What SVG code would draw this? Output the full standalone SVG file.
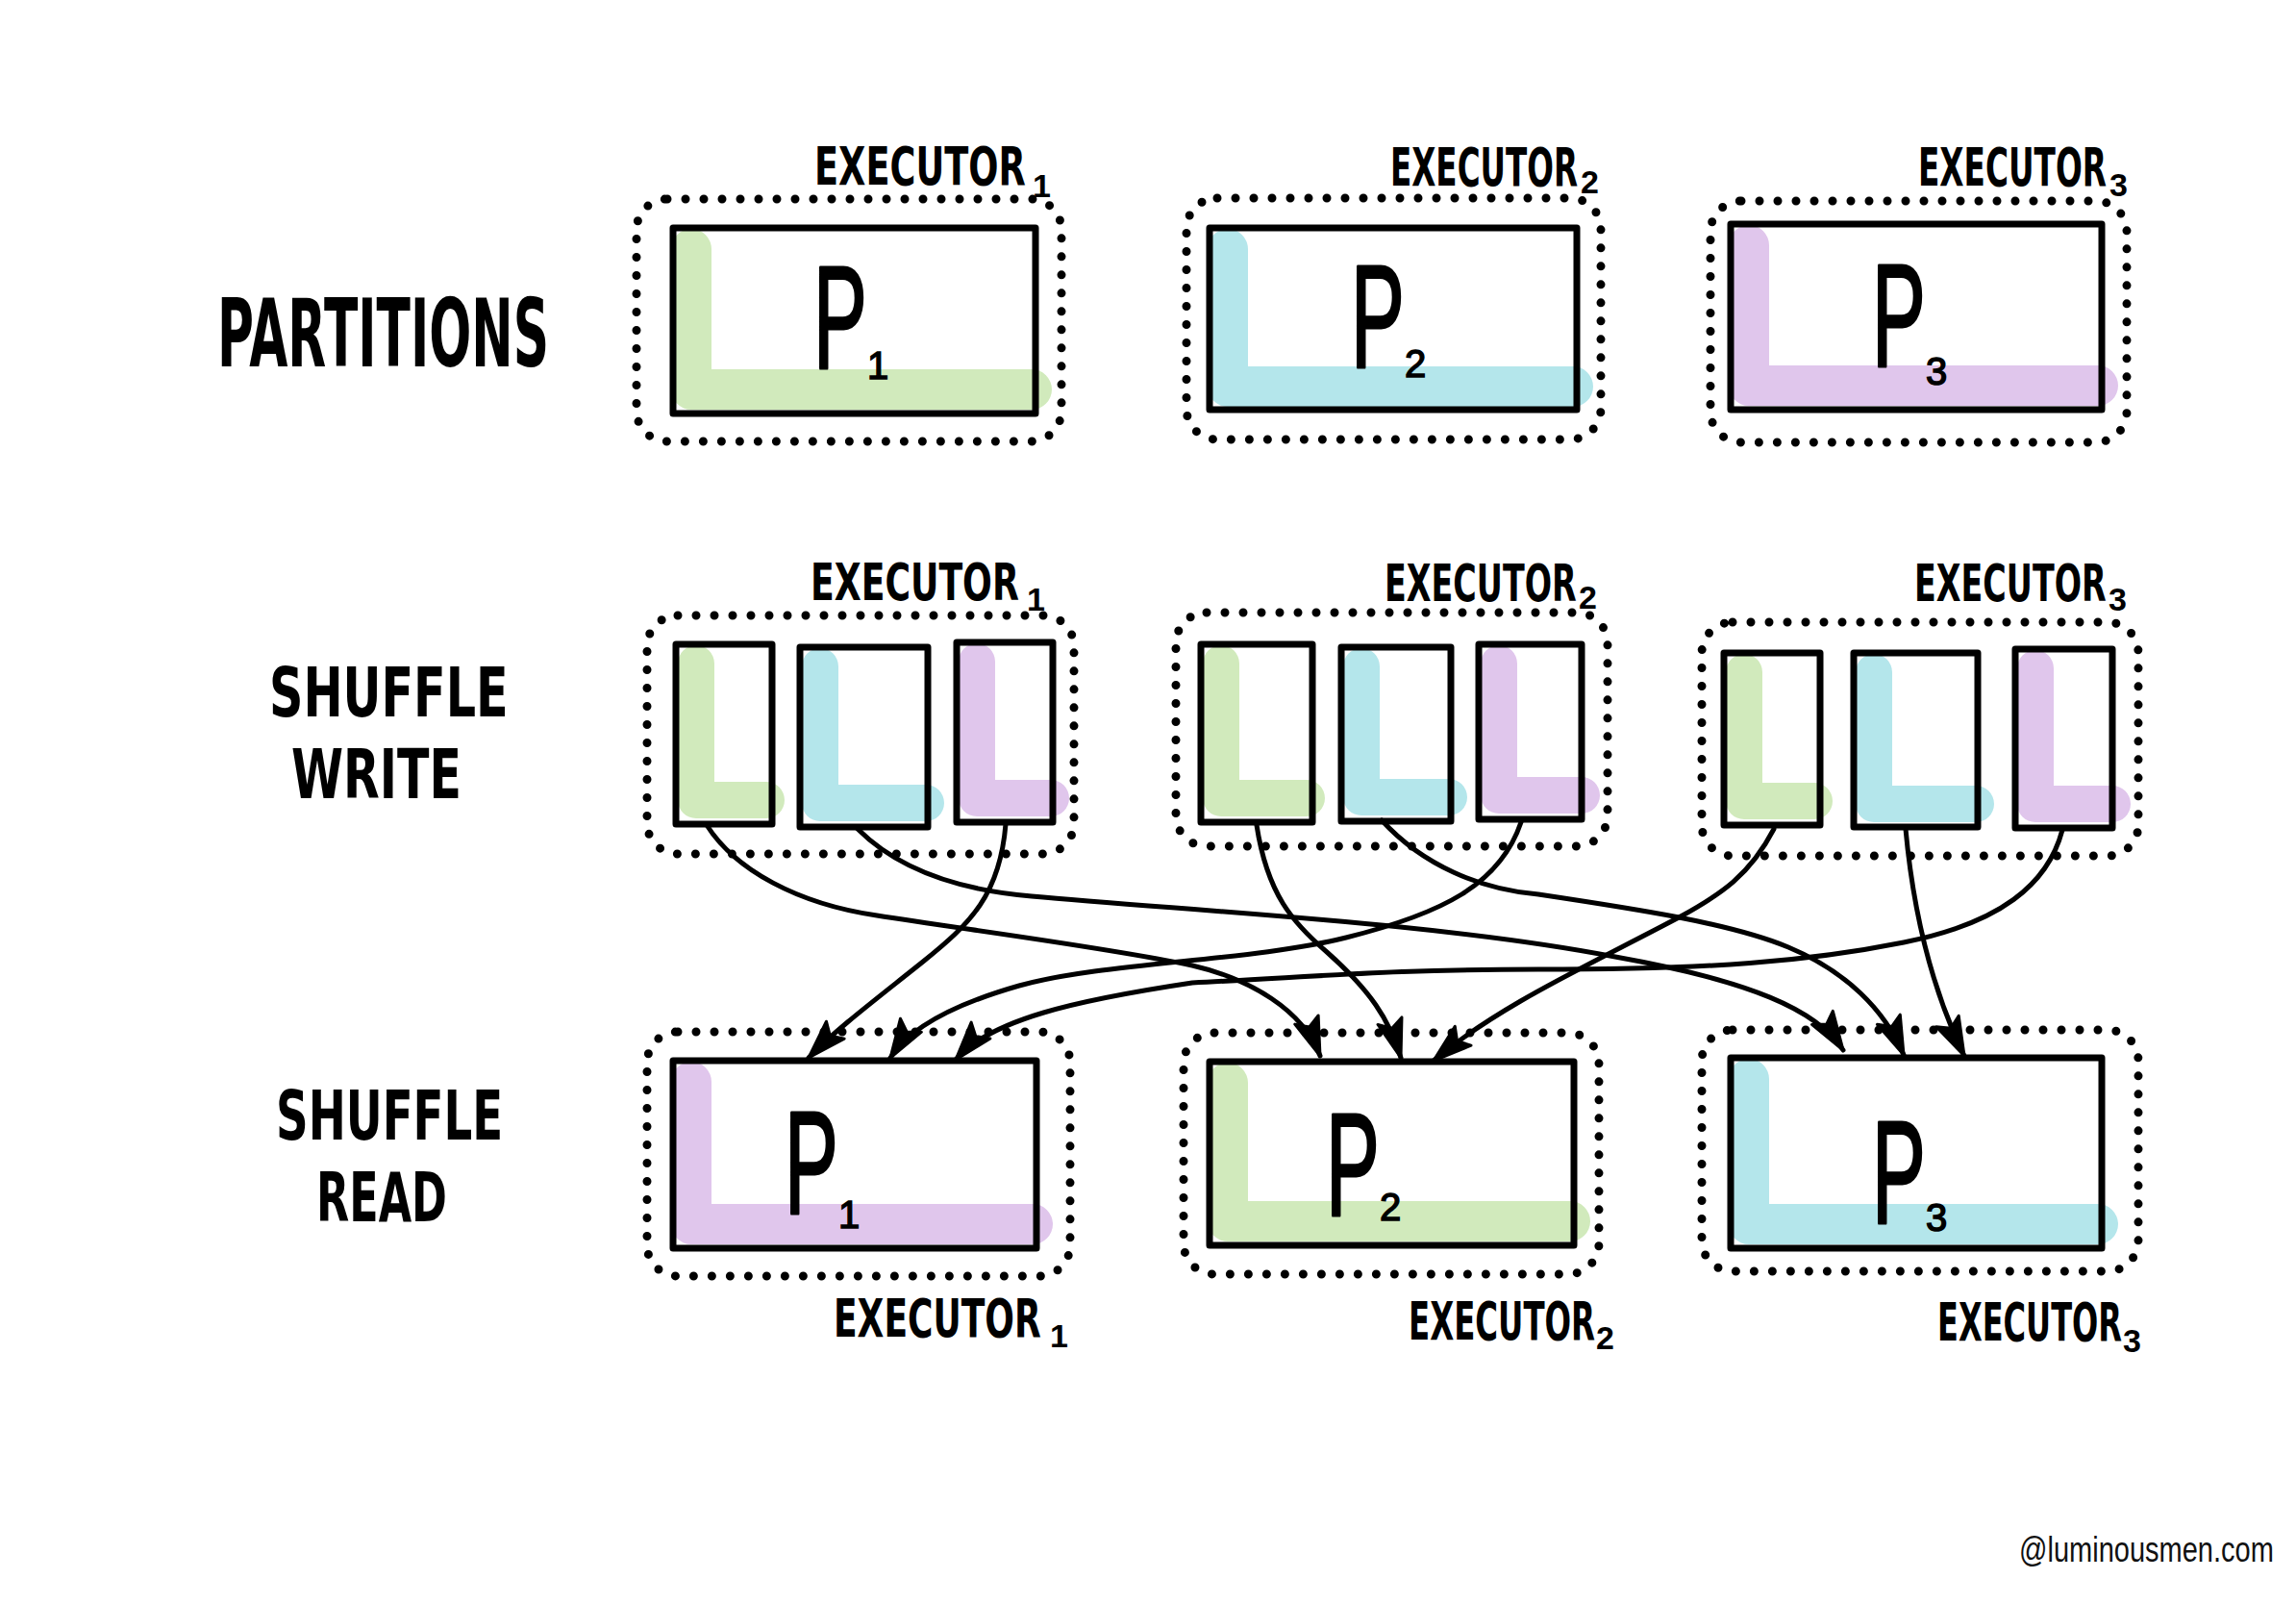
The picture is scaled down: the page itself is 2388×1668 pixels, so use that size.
<svg xmlns="http://www.w3.org/2000/svg" width="2388" height="1668" viewBox="0 0 2388 1668">
<style>
.dot{fill:none;stroke:#000;stroke-width:9;stroke-linecap:round;stroke-dasharray:0 19}
.box{fill:none;stroke:#000;stroke-width:7;stroke-linejoin:round}
.hl{fill:none;stroke-width:42;stroke-linecap:round;stroke-linejoin:round}
.hls{fill:none;stroke-width:38;stroke-linecap:round;stroke-linejoin:round}
.g{stroke:#d1eabc}.b{stroke:#b4e6eb}.p{stroke:#e0c6ec}
.lbl{font-family:"DejaVu Sans","Liberation Sans",sans-serif;font-weight:bold;fill:#000}
.ex{font-family:"DejaVu Sans","Liberation Sans",sans-serif;font-weight:bold;font-size:56px;fill:#000}
.ex2{font-size:54px}
.sub{font-family:"Liberation Sans","DejaVu Sans",sans-serif;font-weight:bold;font-size:34px;fill:#000}
.P{font-family:"Liberation Sans","DejaVu Sans",sans-serif;font-size:152px;fill:#000;stroke:#000;stroke-width:3;stroke-linejoin:round}
.ps{font-family:"Liberation Sans","DejaVu Sans",sans-serif;font-size:40px;fill:#000;stroke:#000;stroke-width:1.5}
.conn path{fill:none;stroke:#000;stroke-width:5;stroke-linecap:round;marker-end:url(#ah)}
</style>
<defs>
<marker id="ah" markerUnits="userSpaceOnUse" markerWidth="46" markerHeight="34" refX="42" refY="15" orient="auto">
<path d="M2,2 L42,15 L2,28 L10,15 Z" fill="#000" stroke="#000" stroke-width="3" stroke-linejoin="round"/>
</marker>
</defs>
<rect width="2388" height="1668" fill="#fff"/>

<g id="row-labels">
<text class="lbl" font-size="98" transform="translate(226,381) scale(0.529,1)">PARTITIONS</text>
<text class="lbl" font-size="72" transform="translate(280,745) scale(0.683,1)">SHUFFLE</text>
<text class="lbl" font-size="72" transform="translate(303,830) scale(0.681,1)">WRITE</text>
<text class="lbl" font-size="72" transform="translate(287,1185) scale(0.649,1)">SHUFFLE</text>
<text class="lbl" font-size="72" transform="translate(329,1270) scale(0.618,1)">READ</text>
</g>

<!-- Row 1: partitions -->
<g id="part-exec1">
<rect class="dot" x="662" y="207" width="442" height="252" rx="32"/>
<path class="hl g" d="M719,259 L719,405 L1073,405"/>
<rect class="box" x="700" y="237" width="377" height="193"/>
<text class="P" transform="translate(846,383) scale(0.55,1)">P</text>
<text class="ps" x="902" y="394">1</text>
<text class="ex" transform="translate(847,192) scale(0.656,1)">EXECUTOR</text>
<text class="sub" x="1074" y="205">1</text>
</g>
<g id="part-exec2">
<rect class="dot" x="1234" y="206" width="431" height="251" rx="32"/>
<path class="hl b" d="M1277,259 L1277,402 L1636,402"/>
<rect class="box" x="1258" y="237" width="382" height="189"/>
<text class="P" transform="translate(1405,382) scale(0.55,1)">P</text>
<text class="ps" x="1461" y="392">2</text>
<text class="ex" transform="translate(1446,193) scale(0.582,1)">EXECUTOR</text>
<text class="sub" x="1644" y="201">2</text>
</g>
<g id="part-exec3">
<rect class="dot" x="1779" y="209" width="433" height="251" rx="32"/>
<path class="hl p" d="M1819,255 L1819,401 L2182,401"/>
<rect class="box" x="1800" y="233" width="386" height="193"/>
<text class="P" transform="translate(1947,381) scale(0.55,1)">P</text>
<text class="ps" x="2003" y="400">3</text>
<text class="ex" transform="translate(1995,193) scale(0.585,1)">EXECUTOR</text>
<text class="sub" x="2194" y="204">3</text>
</g>

<!-- Row 2: shuffle write -->
<g id="write-exec1">
<rect class="dot" x="673" y="640" width="444" height="248" rx="32"/>
<path class="hls g" d="M724,690 L724,832 L797,832"/>
<rect class="box" x="703" y="670" width="100" height="187"/>
<path class="hls b" d="M853,693 L853,835 L963,835"/>
<rect class="box" x="832" y="673" width="133" height="187"/>
<path class="hls p" d="M1016,688 L1016,830 L1093,830"/>
<rect class="box" x="995" y="668" width="100" height="187"/>
<text class="ex ex2" transform="translate(843,624) scale(0.671,1)">EXECUTOR</text>
<text class="sub" x="1068" y="635">1</text>
</g>
<g id="write-exec2">
<rect class="dot" x="1223" y="637" width="449" height="243" rx="32"/>
<path class="hls g" d="M1270,690 L1270,830 L1359,830"/>
<rect class="box" x="1249" y="670" width="116" height="185"/>
<path class="hls b" d="M1416,693 L1416,829 L1507,829"/>
<rect class="box" x="1395" y="673" width="114" height="181"/>
<path class="hls p" d="M1559,690 L1559,827 L1645,827"/>
<rect class="box" x="1538" y="670" width="107" height="182"/>
<text class="ex ex2" transform="translate(1440,625) scale(0.618,1)">EXECUTOR</text>
<text class="sub" x="1642" y="633">2</text>
</g>
<g id="write-exec3">
<rect class="dot" x="1770" y="647" width="454" height="243" rx="32"/>
<path class="hls g" d="M1814,699 L1814,833 L1887,833"/>
<rect class="box" x="1793" y="679" width="100" height="179"/>
<path class="hls b" d="M1949,699 L1949,836 L2055,836"/>
<rect class="box" x="1928" y="679" width="129" height="181"/>
<path class="hls p" d="M2117,695 L2117,836 L2197,836"/>
<rect class="box" x="2096" y="675" width="101" height="186"/>
<text class="ex ex2" transform="translate(1991,625) scale(0.618,1)">EXECUTOR</text>
<text class="sub" x="2193" y="635">3</text>
</g>

<!-- Row 3: shuffle read -->
<g id="read-exec1">
<rect class="dot" x="673" y="1073" width="440" height="254" rx="32"/>
<path class="hl p" d="M719,1125 L719,1273 L1074,1273"/>
<rect class="box" x="700" y="1103" width="378" height="195"/>
<text class="P" transform="translate(816,1262) scale(0.55,1)">P</text>
<text class="ps" x="872" y="1277">1</text>
<text class="ex" transform="translate(867,1390) scale(0.644,1)">EXECUTOR</text>
<text class="sub" x="1092" y="1401">1</text>
</g>
<g id="read-exec2">
<rect class="dot" x="1231" y="1074" width="432" height="251" rx="32"/>
<path class="hl g" d="M1277,1126 L1277,1270 L1633,1270"/>
<rect class="box" x="1258" y="1104" width="379" height="191"/>
<text class="P" transform="translate(1379,1264) scale(0.55,1)">P</text>
<text class="ps" x="1435" y="1269">2</text>
<text class="ex" transform="translate(1465,1393) scale(0.579,1)">EXECUTOR</text>
<text class="sub" x="1660" y="1403">2</text>
</g>
<g id="read-exec3">
<rect class="dot" x="1770" y="1071" width="454" height="251" rx="32"/>
<path class="hl b" d="M1819,1122 L1819,1273 L2182,1273"/>
<rect class="box" x="1800" y="1100" width="386" height="198"/>
<text class="P" transform="translate(1947,1272) scale(0.55,1)">P</text>
<text class="ps" x="2003" y="1280">3</text>
<text class="ex" transform="translate(2015,1394) scale(0.573,1)">EXECUTOR</text>
<text class="sub" x="2208" y="1406">3</text>
</g>

<g id="connectors" class="conn">
<path d="M735,858 C765,905 830,940 912,952 C1000,966 1150,985 1240,1004 C1300,1018 1355,1050 1373,1098"/>
<path d="M892,862 C930,900 990,925 1073,932 C1250,948 1500,960 1680,995 C1820,1020 1890,1050 1917,1092"/>
<path d="M1046,857 C1040,930 1010,960 960,1000 C910,1040 870,1070 841,1100"/>
<path d="M1307,858 C1318,930 1345,960 1380,990 C1425,1030 1445,1060 1457,1100"/>
<path d="M1437,853 C1480,900 1540,925 1600,930 C1700,945 1800,960 1860,985 C1920,1010 1960,1050 1980,1097"/>
<path d="M1582,855 C1560,920 1500,950 1400,975 C1300,1000 1150,1000 1060,1025 C990,1045 945,1070 926,1100"/>
<path d="M1845,862 C1820,910 1790,930 1748,953 C1650,1005 1560,1045 1491,1103"/>
<path d="M1982,862 C1990,950 2010,1030 2043,1098"/>
<path d="M2145,863 C2130,920 2080,960 1980,980 C1880,1000 1780,1008 1600,1008 C1450,1008 1380,1015 1240,1022 C1120,1040 1030,1060 994,1102"/>
</g>

<text font-family="Liberation Sans, sans-serif" font-size="36" fill="#111" transform="translate(2100,1624) scale(0.806,1)">@luminousmen.com</text>
</svg>
